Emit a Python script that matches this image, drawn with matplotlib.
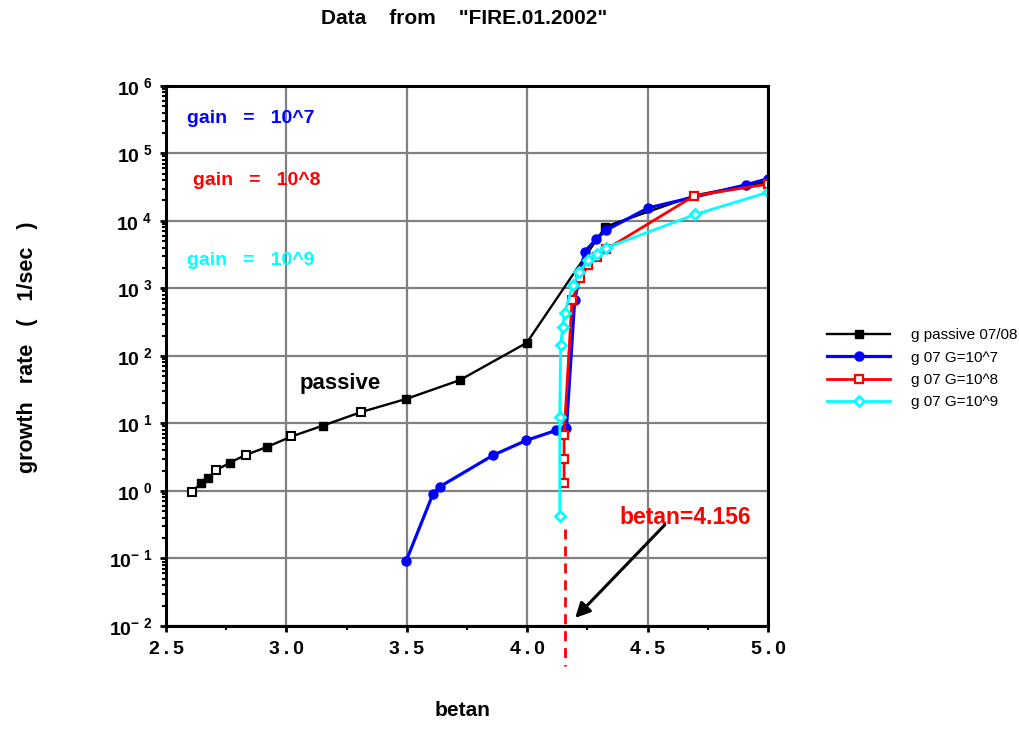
import matplotlib
matplotlib.use("Agg")
import matplotlib.pyplot as plt
from matplotlib.ticker import FixedLocator, FixedFormatter, LogLocator, NullFormatter, MultipleLocator
import numpy as np

plt.rcParams['font.family'] = ['Liberation Sans', 'DejaVu Sans']
plt.rcParams['mathtext.fontset'] = 'custom'
plt.rcParams['mathtext.rm'] = 'Liberation Sans'
plt.rcParams['mathtext.bf'] = 'Liberation Sans:bold'

### DATOS
passive_x = [2.609, 2.644, 2.676, 2.709, 2.766, 2.831, 2.920, 3.021, 3.153, 3.310, 3.497, 3.720, 3.998, 4.325, 4.700, 5.000]
passive_y = [0.97, 1.29, 1.55, 2.03, 2.63, 3.41, 4.48, 6.4, 9.3, 14.7, 23.0, 43.7, 156, 8200, 24000, 38000]

g7_x = [3.498, 3.608, 3.636, 3.860, 3.996, 4.121, 4.163, 4.197, 4.239, 4.285, 4.329, 4.502, 4.907, 5.000]
g7_y = [0.093, 0.89, 1.15, 3.4, 5.6, 7.9, 8.5, 670, 3500, 5300, 7300, 15500, 34000, 42000]

g8_x = [4.153, 4.153, 4.153, 4.186, 4.221, 4.253, 4.288, 4.329, 4.694, 5.000]
g8_y = [1.29, 3.0, 6.8, 670, 1400, 2200, 2900, 3800, 23500, 35000]

g9_x = [4.135, 4.135, 4.139, 4.147, 4.155, 4.189, 4.217, 4.253, 4.288, 4.329, 4.697, 5.000]
g9_y = [0.43, 12.5, 144, 270, 425, 1120, 1750, 2600, 3200, 4000, 12400, 26500]

labels = ["g passive 07/08", "g 07 G=10^7", "g 07 G=10^8", "g 07 G=10^9"]
xticks = [2.5, 3.0, 3.5, 4.0, 4.5, 5.0]
xtick_labels = ["2\u2009.\u20095", "3\u2009.\u20090", "3\u2009.\u20095", "4\u2009.\u20090", "4\u2009.\u20095", "5\u2009.\u20090"]
yticks = [1e-2, 1e-1, 1e0, 1e1, 1e2, 1e3, 1e4, 1e5, 1e6]
ytick_labels = [r"$\mathbf{10^{-\ 2}}$", r"$\mathbf{10^{-\ 1}}$", r"$\mathbf{10^{\ 0}}$", r"$\mathbf{10^{\ 1}}$",
                r"$\mathbf{10^{\ 2}}$", r"$\mathbf{10^{\ 3}}$", r"$\mathbf{10^{\ 4}}$", r"$\mathbf{10^{\ 5}}$",
                r"$\mathbf{10^{\ 6}}$"]
betan_crit = 4.156

# marcadores huecos de la curva pasiva
passive_open = [0, 3, 5, 7, 9]
passive_filled = [i for i in range(len(passive_x)) if i not in passive_open and i < 14]

### FIGURA
fig = plt.figure(figsize=(10.2, 7.29), dpi=100)
ax = fig.add_axes([0.1627, 0.1413, 0.5903, 0.7411])

ax.plot(passive_x, passive_y, color="black", lw=1.7, marker="s", ms=5.5,
        markevery=passive_filled, label=labels[0], zorder=3)
ax.plot([passive_x[i] for i in passive_open], [passive_y[i] for i in passive_open],
        ls="none", marker="s", ms=5.5, mfc="white", mec="black", mew=1.5, zorder=3)
ax.plot(g7_x, g7_y, color="#0000ff", lw=2.3, marker="o", ms=6.5, label=labels[1], zorder=4)
ax.plot(g8_x, g8_y, color="#ff0000", lw=2.0, marker="s", ms=5.5, mfc="white", mew=1.6,
        label=labels[2], zorder=5)
ax.plot(g9_x, g9_y, color="#00ffff", lw=2.0, marker="D", ms=5.5, mfc="white", mew=2,
        label=labels[3], zorder=6)

ax.set_yscale("log")
ax.set_xlim(2.5, 5.0)
ax.set_ylim(1e-2, 1e6)

ax.xaxis.set_major_locator(FixedLocator(xticks))
ax.xaxis.set_major_formatter(FixedFormatter(xtick_labels))
ax.xaxis.set_minor_locator(MultipleLocator(0.25))
ax.yaxis.set_major_locator(FixedLocator(yticks))
ax.yaxis.set_major_formatter(FixedFormatter(ytick_labels))
ax.yaxis.set_minor_locator(LogLocator(base=10, subs=np.arange(2, 10), numticks=20))
ax.yaxis.set_minor_formatter(NullFormatter())

ax.grid(True, which="major", color="#808080", lw=1.6)
ax.set_axisbelow(True)
for s in ax.spines.values():
    s.set_linewidth(2.2)
    s.set_zorder(7)

ax.tick_params(which="major", direction="out", length=4, width=2, labelsize=14, pad=6)
ax.tick_params(which="minor", direction="out", length=3, width=1.5)
ax.tick_params(axis="x", pad=7)
for t in ax.get_xticklabels():
    t.set_fontweight("bold")

### TEXTOS
fig.text(0.455, 0.974, 'Data    from    "FIRE.01.2002"', ha="center", va="center",
         fontsize=15, fontweight="bold", family=["Liberation Sans Narrow", "Liberation Sans"])
fig.text(0.453, 0.012, "betan", ha="center", va="bottom", fontsize=15, fontweight="bold")
fig.text(0.027, 0.523, "growth   rate   (   1/sec   )", rotation=90, ha="center", va="center",
         fontsize=15.5, fontweight="bold")

ax.text(2.587, 3.3e5, "gain   =   10^7", color="#0000ff", fontsize=14, fontweight="bold", va="center")
ax.text(2.612, 4.0e4, "gain   =   10^8", color="#ff0000", fontsize=14, fontweight="bold", va="center")
ax.text(2.587, 2.6e3, "gain   =   10^9", color="#00ffff", fontsize=14, fontweight="bold", va="center")
ax.text(3.056, 39, "passive", color="black", fontsize=16, fontweight="bold", va="center")
ax.text(4.385, 0.41, "betan=4.156", color="#ff0000", fontsize=16.5, fontweight="bold", va="center")

ax.plot([betan_crit, betan_crit], [0.27, 0.0026], color="#ff0000", lw=2, dashes=(3.6, 2.5),
        clip_on=False, zorder=8)
ax.annotate("", xy=(4.191, 0.0123), xytext=(4.579, 0.336),
            arrowprops=dict(arrowstyle="-|>", color="black", lw=2.2, mutation_scale=22),
            zorder=8)

leg = fig.legend(loc="center left", bbox_to_anchor=(0.811, 0.494), frameon=False,
                 fontsize=11, handlelength=4.1, handletextpad=1.4, labelspacing=0.55,
                 borderpad=0, borderaxespad=0)

fig.savefig("out.png", dpi=100)
